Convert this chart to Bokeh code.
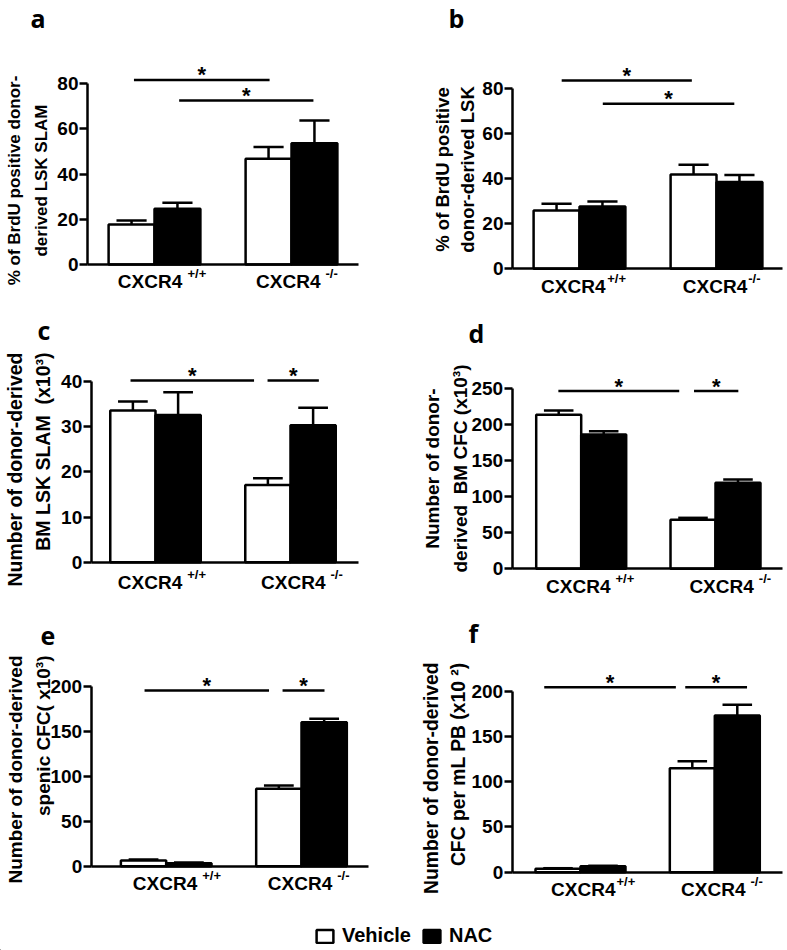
import math
from bokeh.plotting import figure
from bokeh.models import Range1d, FixedTicker, Label, ColumnDataSource, Legend, LegendItem
from bokeh.layouts import column, row
from bokeh.embed import file_html
from bokeh.resources import INLINE
from bokeh.core.properties import value

# ---------------- data ----------------
genotypes = ["CXCR4 +/+", "CXCR4 -/-"]
treatments = ["Vehicle", "NAC"]
tick_main = "CXCR4"

a_vehicle = [17.7, 46.7]
a_vehicle_err = [1.8, 5.2]
a_nac = [24.6, 53.6]
a_nac_err = [2.7, 10.0]
a_yticks = [0, 20, 40, 60, 80]
a_sig_from = [0.85, 1.18]
a_sig_to = [1.84, 2.16]
a_sig_y = [81.6, 72.5]
a_sups = ["+/+", "-/-"]
a_ylabel = "% of BrdU positive donor-\nderived LSK SLAM"

b_vehicle = [25.8, 41.8]
b_vehicle_err = [3.0, 4.3]
b_nac = [27.6, 38.4]
b_nac_err = [2.2, 3.2]
b_yticks = [0, 20, 40, 60, 80]
b_sig_from = [0.87, 1.17]
b_sig_to = [1.82, 2.13]
b_sig_y = [83.4, 73.1]
b_sups = ["+/+", "-/-"]
b_ylabel = "% of BrdU positive\ndonor-derived LSK"

c_vehicle = [33.6, 17.1]
c_vehicle_err = [2.0, 1.5]
c_nac = [32.6, 30.3]
c_nac_err = [5.0, 3.9]
c_yticks = [0, 10, 20, 30, 40]
c_sig_from = [0.815, 1.83]
c_sig_to = [1.73, 2.21]
c_sig_y = [40.2, 40.2]
c_sups = ["+/+", "-/-"]
c_ylabel = "Number of donor-derived\nBM LSK SLAM\u00a0 (x10³)"

d_vehicle = [213.9, 68.0]
d_vehicle_err = [6.0, 2.8]
d_nac = [186.5, 119.4]
d_nac_err = [4.6, 4.6]
d_yticks = [0, 50, 100, 150, 200, 250]
d_sig_from = [0.83, 1.84]
d_sig_to = [1.73, 2.17]
d_sig_y = [246.9, 246.9]
d_sups = ["+/+", "-/-"]
d_ylabel = "Number of donor-\nderived\u00a0 BM CFC (x10³)"

e_vehicle = [6.3, 86.1]
e_vehicle_err = [1.1, 3.7]
e_nac = [3.3, 160.3]
e_nac_err = [0.7, 3.7]
e_yticks = [0, 50, 100, 150, 200]
e_sig_from = [0.84, 1.86]
e_sig_to = [1.76, 2.17]
e_sig_y = [195.6, 195.6]
e_sups = ["+/+", "-/-"]
e_ylabel = "Number of donor-derived\nspenic CFC( x10³)"

f_vehicle = [3.7, 114.9]
f_vehicle_err = [0.7, 7.8]
f_nac = [6.6, 173.2]
f_nac_err = [0.5, 11.8]
f_yticks = [0, 50, 100, 150, 200]
f_sig_from = [0.73, 1.78]
f_sig_to = [1.71, 2.24]
f_sig_y = [204.4, 204.4]
f_sups = ["+/+", "-/-"]
f_ylabel = "Number of donor-derived\nCFC per mL PB (x10 ²)"

# ---------------- layout (page pixel geometry) ----------------
FONT = "Liberation Sans"
LW = 2.5
BAR_W = 0.335
CAP_W = 0.22

LAYOUT = {
    "a": dict(fig=(0, 0, 400, 300), lr=(87, 358), centers=(154, 291), zero=264, ymax_px=83,
              ylab=(27.5, 180, "center", 17, 1.4), letter=(30, 25),
              tick_dx=[27.7, 29], sup_dx=[33, 34], tick_dy=23),
    "b": dict(fig=(400, 0, 387, 300), lr=(512, 782), centers=(579, 716), zero=268.3, ymax_px=87.7,
              ylab=(454.5, 169, "center", 18.5, 1.2), letter=(448, 25),
              tick_dx=[26, 30.7], sup_dx=[27.7, 31.7], tick_dy=23.4),
    "c": dict(fig=(0, 300, 400, 300), lr=(90.7, 358), centers=(155, 290), zero=561.7, ymax_px=381,
              ylab=(28.5, 352, "right", 19.5, 1.25), letter=(37, 337),
              tick_dx=[26.7, 35], sup_dx=[31.7, 40], tick_dy=26),
    "d": dict(fig=(400, 300, 387, 300), lr=(511.7, 781.7), centers=(580.7, 715), zero=568.3, ymax_px=388.3,
              ylab=(446, 468, "center", 19, 1.35), letter=(468, 340),
              tick_dx=[29.3, 38.3], sup_dx=[34.3, 43.3], tick_dy=24),
    "e": dict(fig=(0, 600, 400, 300), lr=(90.7, 368), centers=(165.7, 301), zero=865.7, ymax_px=686,
              ylab=(29, 655, "right", 19, 1.35), letter=(40, 643),
              tick_dx=[31, 30.7], sup_dx=[36, 35.7], tick_dy=23.3),
    "f": dict(fig=(400, 600, 387, 300), lr=(511.7, 781.7), centers=(580, 714.3), zero=871.7, ymax_px=690.7,
              ylab=(444.5, 662, "right", 19.3, 1.25), letter=(468, 640),
              tick_dx=[35, 30.7], sup_dx=[36, 35.7], tick_dy=23.3),
}
TICK_RAISE = 6      # correction for rendered baseline of tick labels
LETTER_RAISE = 8    # correction for rendered baseline of panel letters


def make_panel(key, veh, veh_err, nac, nac_err, yticks, sig_from, sig_to, sig_y, sups, ylabel):
    L = LAYOUT[key]
    fx, fy, fw, fh = L["fig"]
    left_px, right_px = L["lr"]
    c1, c2 = L["centers"]
    ppx = c2 - c1
    ymax = max(yticks)
    ppy = (L["zero"] - L["ymax_px"]) / ymax
    x_start = 1 - (c1 - fx) / ppx
    x_end = x_start + fw / ppx
    y_start = -(fy + fh - L["zero"]) / ppy
    y_end = (L["zero"] - fy) / ppy
    ax_x0 = 1 - (c1 - left_px) / ppx
    ax_x1 = 1 + (right_px - c1) / ppx

    def X(px):
        return x_start + (px - fx) / ppx

    def Y(py):
        return y_end - (py - fy) / ppy

    p = figure(width=fw, height=fh, x_range=Range1d(x_start, x_end), y_range=Range1d(y_start, y_end),
               toolbar_location=None, tools="", output_backend="svg", min_border=0)
    p.outline_line_color = None
    p.grid.visible = False
    p.background_fill_color = "white"
    p.border_fill_color = "white"

    # axes (drawn at fixed data locations inside the plotting area)
    ya = p.yaxis[0]
    ya.fixed_location = ax_x0
    ya.ticker = FixedTicker(ticks=yticks)
    ya.bounds = (0, ymax)
    ya.axis_line_width = LW
    ya.major_tick_line_width = LW
    ya.major_tick_out = 8
    ya.major_tick_in = 0
    ya.minor_tick_out = 0
    ya.minor_tick_in = 0
    ya.major_label_standoff = 1
    ya.major_label_text_font = FONT
    ya.major_label_text_font_style = "bold"
    ya.major_label_text_font_size = "19px"
    ya.major_label_text_color = "black"

    xa = p.xaxis[0]
    xa.fixed_location = 0
    xa.bounds = (ax_x0, ax_x1)
    xa.ticker = FixedTicker(ticks=[])
    xa.axis_line_width = LW
    xa.major_tick_out = 0
    xa.major_tick_in = 0
    xa.minor_tick_out = 0
    xa.minor_tick_in = 0
    xa.major_label_text_font_size = "0px"

    pos = [i + 1 for i in range(len(genotypes))]
    veh_x = [c - BAR_W / 2 for c in pos]
    nac_x = [c + BAR_W / 2 for c in pos]

    p.vbar(x=veh_x, top=veh, width=BAR_W, bottom=0, fill_color="white",
           line_color="black", line_width=LW)
    p.vbar(x=nac_x, top=nac, width=BAR_W, bottom=0, fill_color="black",
           line_color="black", line_width=LW)

    # upper error bars
    for xs, m, e in ((veh_x, veh, veh_err), (nac_x, nac, nac_err)):
        hi = [mi + ei for mi, ei in zip(m, e)]
        p.segment(x0=xs, y0=m, x1=xs, y1=hi, line_color="black", line_width=LW)
        p.segment(x0=[x - CAP_W / 2 for x in xs], y0=hi, x1=[x + CAP_W / 2 for x in xs], y1=hi,
                  line_color="black", line_width=LW)

    # significance bars
    p.segment(x0=sig_from, y0=sig_y, x1=sig_to, y1=sig_y, line_color="black", line_width=LW)
    p.text(x=[(a + b) / 2 for a, b in zip(sig_from, sig_to)], y=sig_y, text=["*"] * len(sig_y),
           text_align="center", text_baseline="alphabetic", y_offset=-5,
           text_font=value(FONT), text_font_style="bold", text_font_size="22px", text_color="black")

    # x tick labels with superscripts
    for i, c in enumerate(pos):
        p.add_layout(Label(x=c, y=0, text=tick_main, text_align="right", text_baseline="alphabetic",
                           x_offset=L["tick_dx"][i], y_offset=-(L["tick_dy"] - TICK_RAISE),
                           text_font=FONT, text_font_style="bold", text_font_size="19px",
                           text_color="black"))
        p.add_layout(Label(x=c, y=0, text=sups[i], text_align="left", text_baseline="alphabetic",
                           x_offset=L["sup_dx"][i], y_offset=-(L["tick_dy"] - TICK_RAISE - 8),
                           text_font=FONT, text_font_style="bold", text_font_size="13px",
                           text_color="black"))

    # y axis title (rotated, two lines)
    lx, ly, lalign, lsize, lh = L["ylab"]
    p.add_layout(Label(x=X(lx), y=Y(ly), text=ylabel, angle=math.pi / 2,
                       text_align=lalign, text_baseline="middle",
                       text_font=FONT, text_font_style="bold", text_font_size=f"{lsize}px",
                       text_line_height=lh, text_color="black"))

    # panel letter
    ltx, lty = L["letter"]
    p.add_layout(Label(x=X(ltx), y=Y(lty), y_offset=LETTER_RAISE, text=key, text_align="left",
                       text_baseline="alphabetic",
                       text_font="Open Sans", text_font_style="bold", text_font_size="25px",
                       text_color="black"))
    return p


pa = make_panel("a", a_vehicle, a_vehicle_err, a_nac, a_nac_err, a_yticks, a_sig_from, a_sig_to, a_sig_y, a_sups, a_ylabel)
pb = make_panel("b", b_vehicle, b_vehicle_err, b_nac, b_nac_err, b_yticks, b_sig_from, b_sig_to, b_sig_y, b_sups, b_ylabel)
pc = make_panel("c", c_vehicle, c_vehicle_err, c_nac, c_nac_err, c_yticks, c_sig_from, c_sig_to, c_sig_y, c_sups, c_ylabel)
pd = make_panel("d", d_vehicle, d_vehicle_err, d_nac, d_nac_err, d_yticks, d_sig_from, d_sig_to, d_sig_y, d_sups, d_ylabel)
pe = make_panel("e", e_vehicle, e_vehicle_err, e_nac, e_nac_err, e_yticks, e_sig_from, e_sig_to, e_sig_y, e_sups, e_ylabel)
pf = make_panel("f", f_vehicle, f_vehicle_err, f_nac, f_nac_err, f_yticks, f_sig_from, f_sig_to, f_sig_y, f_sups, f_ylabel)

# legend strip
leg = figure(width=787, height=50, x_range=Range1d(0, 1), y_range=Range1d(0, 1),
             toolbar_location=None, tools="", output_backend="svg",
             x_axis_type=None, y_axis_type=None, min_border=0)
leg.outline_line_color = None
leg.grid.visible = False
# legend swatch renderers (their single zero-height bar lies outside the visible range)
src_veh = ColumnDataSource(dict(x=[-5.0], top=[0.0]))
src_nac = ColumnDataSource(dict(x=[-5.0], top=[0.0]))
r1 = leg.vbar(x="x", top="top", width=0.1, source=src_veh, fill_color="white", line_color="black", line_width=LW)
r2 = leg.vbar(x="x", top="top", width=0.1, source=src_nac, fill_color="black", line_color="black", line_width=LW)
legend = Legend(items=[LegendItem(label=value(treatments[0]), renderers=[r1]),
                       LegendItem(label=value(treatments[1]), renderers=[r2])],
                orientation="horizontal", location=(314, 3),
                glyph_width=21, glyph_height=16, label_height=16, label_standoff=7, spacing=10,
                padding=0, margin=0, border_line_color=None, background_fill_alpha=0,
                label_text_font=FONT, label_text_font_style="bold", label_text_font_size="20px",
                label_text_color="black")
leg.add_layout(legend)

layout = column(row(pa, pb, spacing=0), row(pc, pd, spacing=0), row(pe, pf, spacing=0), leg, spacing=0)

open("out.html", "w").write(file_html(layout, INLINE))
